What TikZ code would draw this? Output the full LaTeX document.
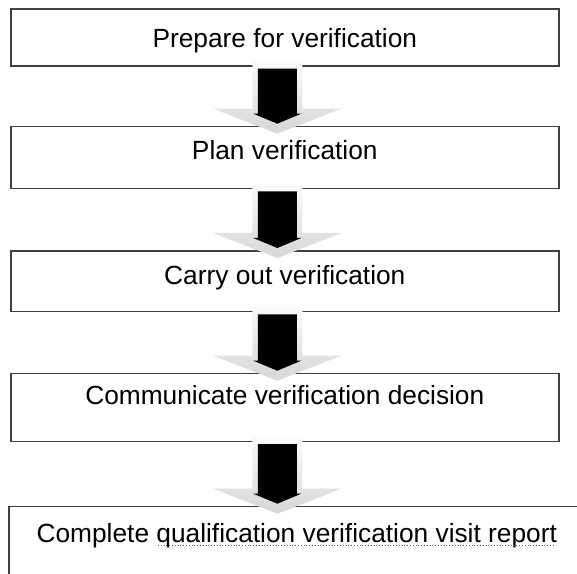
\documentclass[tikz,border=0pt]{standalone}
\usepackage{fontspec}
\setmainfont{Liberation Sans}
\usetikzlibrary{calc}

\tikzset{
  stepbox/.style={draw=black!75, line width=1.6pt, rectangle, anchor=north west,
    inner sep=0pt, minimum width=548pt, font=\fontsize{26.3}{30}\selectfont},
}

% block arrow from the upper box #1 to the lower box #2
\newcommand{\flowarrow}[2]{%
  \shade[top color=gray!3, bottom color=gray!32] let \p1=(#1.south), \p2=(#2.north) in
    (\x1-32.5pt,\y1+6pt) -- (\x1+17.5pt,\y1+6pt) -- (\x1+17.5pt,\y2+17pt) -- (\x1+56.5pt,\y2+17pt)
    -- (\x1-7.5pt,\y2-8pt) -- (\x1-71.5pt,\y2+17pt) -- (\x1-32.5pt,\y2+17pt) -- cycle;
  \fill[black] let \p1=(#1.south), \p2=(#2.north) in
    (\x1-27pt,\y1-2pt) -- (\x1+12pt,\y1-2pt) -- (\x1+12pt,\y2+12pt) -- (\x1+16.5pt,\y2+12pt)
    -- (\x1-7.5pt,\y2+2pt) -- (\x1-31.5pt,\y2+12pt) -- (\x1-27pt,\y2+12pt) -- cycle;
}

\begin{document}
\begin{tikzpicture}[x=1pt, y=1pt]
\useasboundingbox (0,0) rectangle (577,573);
\clip (0,0) rectangle (577,573);
\fill[white] (0,0) rectangle (577,573);

\node[stepbox, minimum height=56.5pt, text height=38.5pt, text depth=18pt] (prepare) at (10,564.5) {Prepare for verification};
\node[stepbox, minimum height=62pt, text height=32.6pt, text depth=29.4pt] (plan) at (10,447.3) {Plan verification};
\node[stepbox, minimum height=60.7pt, text height=33.3pt, text depth=27.4pt] (carry) at (10,323) {Carry out verification};
\node[stepbox, minimum height=67.8pt, text height=31.3pt, text depth=36.5pt] (decision) at (10,200.3) {Communicate verification decision};
\node[stepbox, minimum width=576pt, minimum height=100pt, text height=36pt, text depth=64pt] (report) at (8,67.3) {Complete qualification verification visit report};

\flowarrow{prepare}{plan}
\flowarrow{plan}{carry}
\flowarrow{carry}{decision}
\flowarrow{decision}{report}

% spell-check mark under the last words
\draw[green!60!black, line width=0.8pt, dotted] ($(report.north west)+(150,-40)$) -- ($(report.north west)+(545,-40)$);
\end{tikzpicture}
\end{document}
